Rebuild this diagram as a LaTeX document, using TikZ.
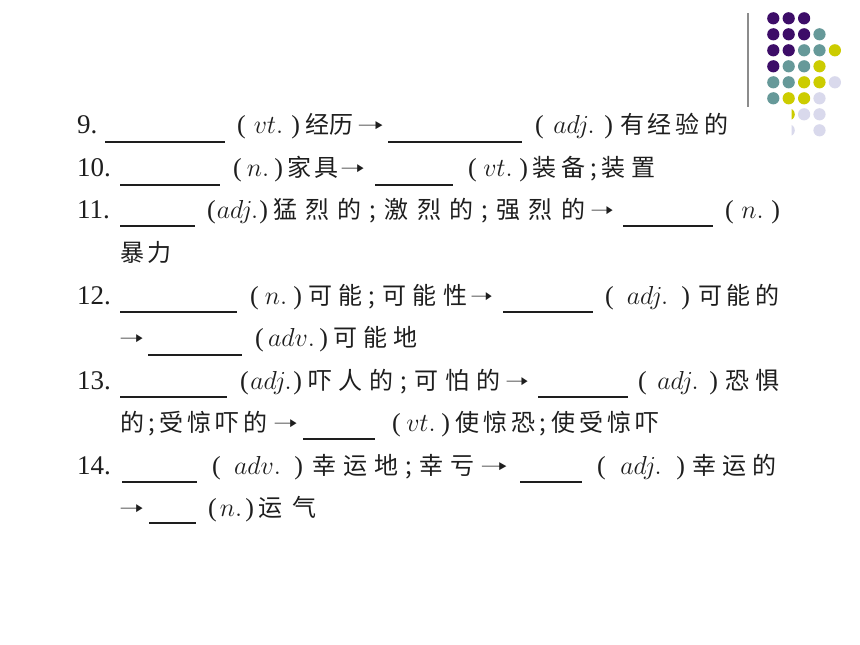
\RequirePackage{fix-cm}
\documentclass[tikz,border=0pt]{standalone}
\usepackage{fontspec}
\usepackage{graphicx}
\newfontfamily\cjk{Noto Sans CJK SC}
\newfontfamily\arrfont{DejaVu Sans}
\newfontfamily\numfont{Liberation Serif}
\definecolor{ink}{HTML}{1E1E1E}
\definecolor{dpurple}{RGB}{61,13,104}
\definecolor{dteal}{RGB}{102,153,153}
\definecolor{dyellow}{RGB}{204,204,0}
\definecolor{dlav}{RGB}{217,217,236}
\newcommand\gp{\hfil}
\newcommand\zh[2]{\hbox to #1pt{\cjk\fontsize{24}{24}\selectfont #2}}
\newcommand\la[2]{\hbox to #1pt{\fontsize{26}{26}\selectfont\numfont #2}}
\newcommand\nm[1]{{\fontsize{27}{27}\selectfont\numfont #1}}
\newcommand\arw[1]{\raisebox{2pt}{\resizebox{#1pt}{0.78\height}{\arrfont\fontsize{24}{24}\selectfont ➝}}}
\tikzset{
  txt/.style={anchor=base west, inner sep=0pt, outer sep=0pt, text=ink},
  blank/.style={line width=1.3pt, draw=ink},
  pdot/.style={fill=dpurple},
  tdot/.style={fill=dteal},
  ydot/.style={fill=dyellow},
  ldot/.style={fill=dlav}
}
\begin{document}
\begin{tikzpicture}[x=1pt,y=-1pt]
\useasboundingbox (0,0) rectangle (860,645);
\fill[white] (0,0) rectangle (860,645);
% decoration
\draw[line width=2pt, draw=gray!90] (748.3,13) -- (748.3,107);
\foreach \c/\r/\s in {0/0/pdot,1/0/pdot,2/0/pdot,
  0/1/pdot,1/1/pdot,2/1/pdot,3/1/tdot,
  0/2/pdot,1/2/pdot,2/2/tdot,3/2/tdot,4/2/ydot,
  0/3/pdot,1/3/tdot,2/3/tdot,3/3/ydot,
  0/4/tdot,1/4/tdot,2/4/ydot,3/4/ydot,4/4/ldot,
  0/5/tdot,1/5/ydot,2/5/ydot,3/5/ldot,
  2/6/ldot,3/6/ldot,3/7/ldot}
  \path[\s] ({773.3+15.4*\c},{18.3+16*\r}) circle (6.1);
\begin{scope}
  \clip (791.5,100) rectangle (800,140);
  \path[ydot] (788.7,114.3) circle (6.1);
  \path[ldot] (788.7,130.3) circle (6.1);
\end{scope}
% line 9
\node[txt] (n9) at (77,133) {\nm{9.}};
\draw[blank] (105,142) -- (225,142);
\node[txt] (p9a) at (237,133) {\la{63}{(\gp $vt.$\gp )}};
\node[txt] (c9a) at (305,133) {\zh{48}{经\gp 历}};
\node[txt] (a9a) at (357,133) {\arw{27}};
\draw[blank] (388,142) -- (522,142);
\node[txt] (p9b) at (535,133) {\la{78}{(\gp $adj.$\gp )}};
\node[txt] (c9b) at (620,133) {\zh{108}{有\gp 经\gp 验\gp 的}};
% line 10
\node[txt] (n10) at (77,176) {\nm{10.}};
\draw[blank] (120,185) -- (220,185);
\node[txt] (p10a) at (233,176) {\la{50}{(\gp $n.$\gp )}};
\node[txt] (c10a) at (287,176) {\zh{51}{家\gp 具}};
\node[txt] (a10a) at (340,176) {\arw{25}};
\draw[blank] (375,185) -- (453,185);
\node[txt] (p10b) at (468,176) {\la{60}{(\gp $vt.$\gp )}};
\node[txt] (c10b) at (532,176) {\zh{123}{装\gp 备\gp ;\gp 装\gp 置}};
% line 11
\node[txt] (n11) at (77,218) {\nm{11.}};
\draw[blank] (120,226) -- (195,226);
\node[txt] (p11a) at (207,218) {\la{61}{(\gp $adj.$\gp )}};
\node[txt] (c11a) at (273,218) {\zh{312}{猛\gp 烈\gp 的\gp ;\gp 激\gp 烈\gp 的\gp ;\gp 强\gp 烈\gp 的}};
\node[txt] (a11a) at (590,218) {\arw{24}};
\draw[blank] (623,226) -- (713,226);
\node[txt] (p11b) at (725,218) {\la{55}{(\gp $n.$\gp )}};
\node[txt] (c11b) at (120,261) {\zh{52}{暴\gp 力}};
% line 12
\node[txt] (n12) at (77,304) {\nm{12.}};
\draw[blank] (120,312) -- (237,312);
\node[txt] (p12a) at (250,304) {\la{52}{(\gp $n.$\gp )}};
\node[txt] (c12a) at (308,304) {\zh{159}{可\gp 能\gp ;\gp 可\gp 能\gp 性}};
\node[txt] (a12a) at (470,304) {\arw{23}};
\draw[blank] (503,312) -- (593,312);
\node[txt] (p12b) at (605,304) {\la{85}{(\gp $adj.$\gp )}};
\node[txt] (c12b) at (698,304) {\zh{82}{可\gp 能\gp 的}};
\node[txt] (a12b) at (119,346) {\arw{25}};
\draw[blank] (148,355) -- (242,355);
\node[txt] (p12c) at (255,346) {\la{73}{(\gp $adv.$\gp )}};
\node[txt] (c12c) at (333,346) {\zh{85}{可\gp 能\gp 地}};
% line 13
\node[txt] (n13) at (77,389) {\nm{13.}};
\draw[blank] (120,397) -- (227,397);
\node[txt] (p13a) at (240,389) {\la{62}{(\gp $adj.$\gp )}};
\node[txt] (c13a) at (308,389) {\zh{192}{吓\gp 人\gp 的\gp ;\gp 可\gp 怕\gp 的}};
\node[txt] (a13a) at (505,389) {\arw{24}};
\draw[blank] (538,397) -- (628,397);
\node[txt] (p13b) at (638,389) {\la{80}{(\gp $adj.$\gp )}};
\node[txt] (c13b) at (725,389) {\zh{55}{恐\gp 惧}};
\node[txt] (c13c) at (120,431) {\zh{148}{的\gp ;\gp 受\gp 惊\gp 吓\gp 的}};
\node[txt] (a13b) at (273,431) {\arw{25}};
\draw[blank] (303,439) -- (375,439);
\node[txt] (p13c) at (392,431) {\la{58}{(\gp $vt.$\gp )}};
\node[txt] (c13d) at (455,431) {\zh{205}{使\gp 惊\gp 恐\gp ;\gp 使\gp 受\gp 惊\gp 吓}};
% line 14
\node[txt] (n14) at (77,474) {\nm{14.}};
\draw[blank] (122,482) -- (197,482);
\node[txt] (p14a) at (212,474) {\la{91}{(\gp $adv.$\gp )}};
\node[txt] (c14a) at (312,474) {\zh{163}{幸\gp 运\gp 地\gp ;\gp 幸\gp 亏}};
\node[txt] (a14a) at (480,474) {\arw{28}};
\draw[blank] (520,482) -- (582,482);
\node[txt] (p14b) at (597,474) {\la{88}{(\gp $adj.$\gp )}};
\node[txt] (c14b) at (692,474) {\zh{85}{幸\gp 运\gp 的}};
\node[txt] (a14b) at (119,516) {\arw{25}};
\draw[blank] (149,523) -- (196,523);
\node[txt] (p14c) at (208,516) {\la{46}{(\gp $n.$\gp )}};
\node[txt] (c14c) at (258,516) {\zh{59}{运\gp 气}};
\end{tikzpicture}
\end{document}
